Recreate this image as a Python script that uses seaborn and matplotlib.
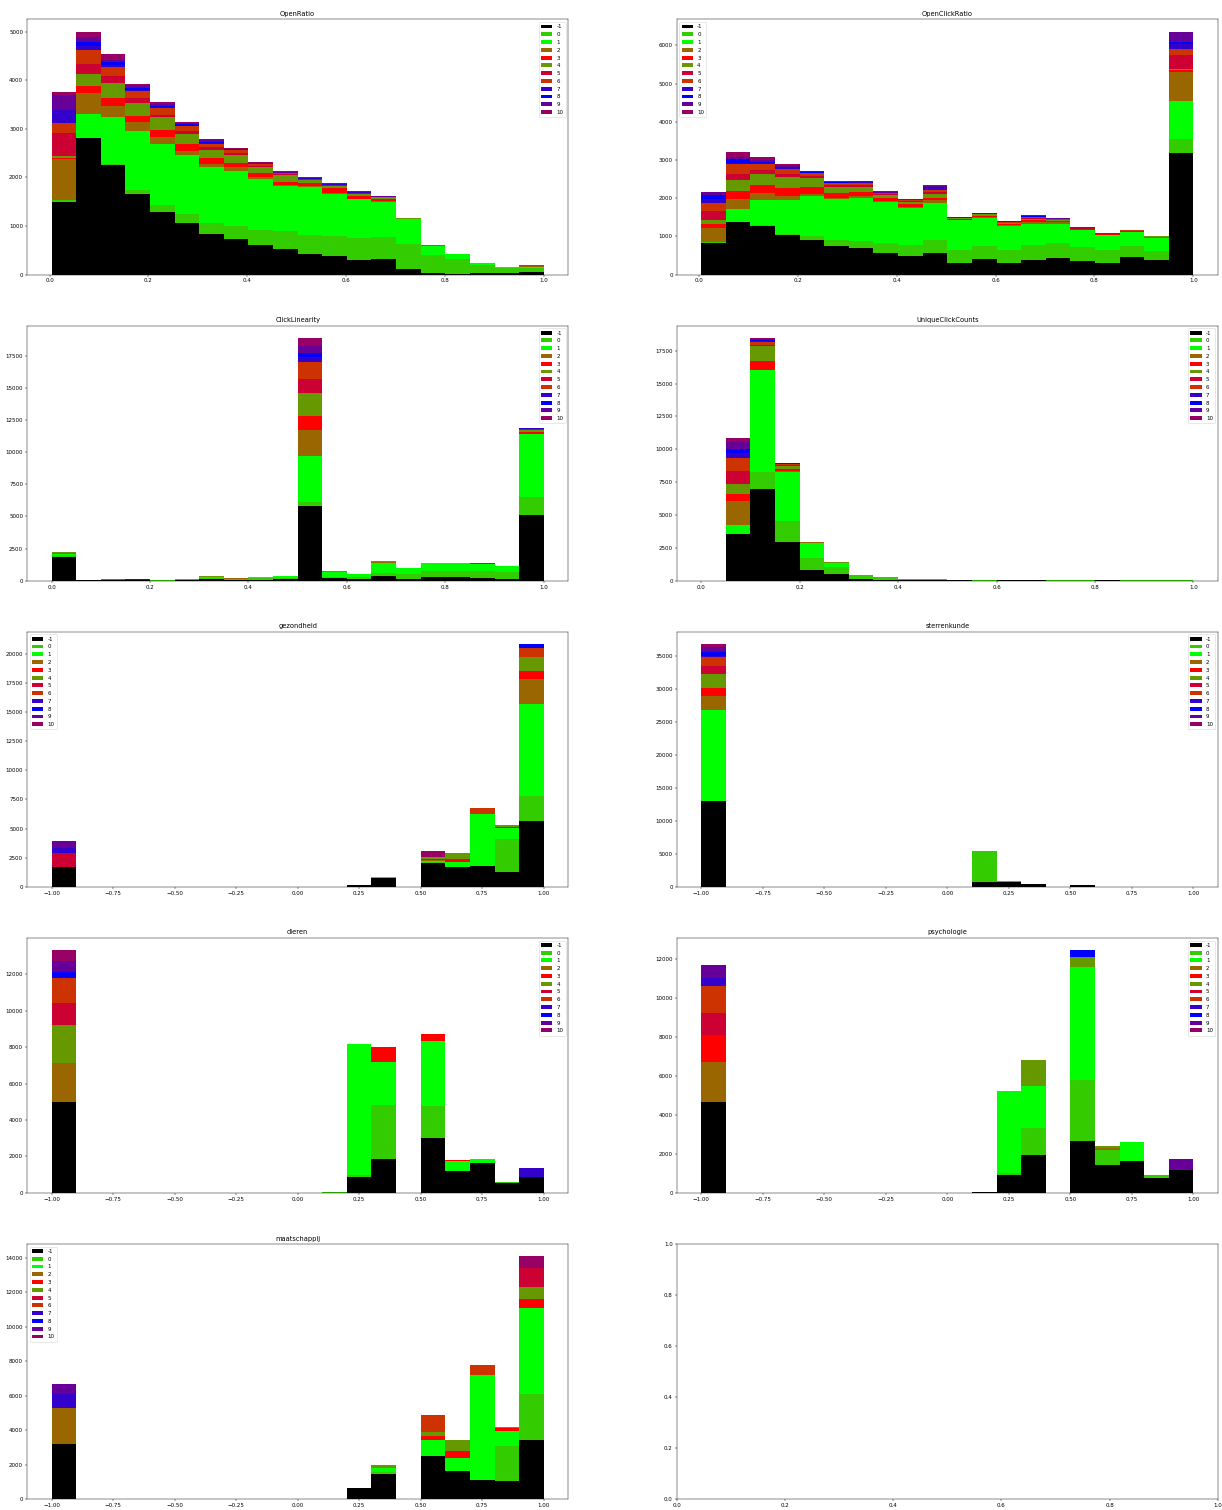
import numpy
import pandas
import seaborn as sns
import matplotlib
matplotlib.use('Agg')
import matplotlib.pyplot as plt
import matplotlib.patches as patches


# Cluster labels and their colours, bottom of the stack first.
class_labels = ['-1', '0', '1', '2', '3', '4', '5', '6', '7', '8', '9', '10']
class_colors = [
    '#000000', '#33cc00', '#00ff00', '#996600', '#ff0000', '#669900',
    '#cc0033', '#cc3300', '#3300cc', '#0000ff', '#660099', '#990066'
]

panel_titles = [
    'OpenRatio', 'OpenClickRatio', 'ClickLinearity', 'UniqueClickCounts',
    'gezondheid', 'sterrenkunde', 'dieren', 'psychologie', 'maatschappij'
]
panel_ranges = [
    (0.004, 1.0), (0.0045, 1.0), (0.0, 1.0), (0.0, 1.0),
    (-1.0, 1.0), (-1.0, 1.0), (-1.0, 1.0), (-1.0, 1.0), (-1.0, 1.0)
]
legend_locs = [
    'upper right', 'upper left', 'upper right', 'upper right',
    'upper left', 'upper right', 'upper right', 'upper right', 'upper left'
]

# Counts per bin (rows, 20 bins) and per cluster (columns, -1 .. 10).
open_ratio_counts = [
    [1495, 35, 0, 855, 20, 30, 480, 205, 260, 0, 310, 70],
    [2805, 5, 490, 440, 140, 240, 210, 290, 80, 80, 110, 110],
    [2250, 35, 960, 220, 170, 310, 135, 185, 45, 60, 55, 105],
    [1667, 83, 1205, 180, 135, 270, 95, 140, 20, 55, 55, 25],
    [1283, 144, 1268, 138, 151, 261, 48, 137, 20, 28, 42, 27],
    [1056, 186, 1228, 75, 137, 213, 55, 103, 14, 27, 27, 21],
    [844, 219, 1146, 62, 137, 165, 47, 62, 27, 21, 35, 20],
    [727, 268, 1145, 69, 89, 158, 48, 55, 7, 13, 14, 14],
    [617, 309, 1050, 34, 82, 124, 20, 35, 7, 6, 14, 27],
    [535, 357, 933, 27, 62, 130, 21, 27, 4, 3, 21, 20],
    [418, 405, 981, 21, 62, 61, 14, 14, 4, 3, 6, 21],
    [391, 398, 878, 21, 96, 34, 20, 14, 4, 3, 14, 14],
    [309, 446, 795, 14, 48, 55, 13, 8, 4, 3, 14, 7],
    [322, 446, 734, 21, 41, 27, 4, 3, 1, 1, 13, 7],
    [123, 501, 515, 6, 7, 3, 2, 2, 0, 0, 0, 0],
    [34, 364, 199, 2, 1, 1, 0, 0, 0, 0, 0, 0],
    [14, 315, 103, 1, 0, 0, 0, 0, 0, 0, 0, 0],
    [27, 179, 41, 0, 0, 0, 0, 0, 0, 0, 0, 0],
    [27, 117, 7, 0, 0, 0, 0, 0, 0, 0, 0, 0],
    [55, 89, 14, 14, 3, 6, 3, 7, 0, 0, 0, 0],
]

open_click_ratio_counts = [
    [830, 15, 11, 375, 105, 88, 236, 200, 105, 114, 70, 17],
    [1371, 9, 323, 280, 209, 280, 157, 262, 35, 105, 35, 131],
    [1266, 27, 655, 174, 219, 288, 105, 157, 35, 26, 44, 87],
    [1031, 43, 874, 113, 210, 288, 70, 122, 26, 35, 44, 35],
    [900, 104, 1057, 44, 175, 253, 52, 61, 17, 17, 18, 18],
    [742, 158, 1083, 9, 130, 175, 44, 43, 17, 9, 18, 17],
    [699, 183, 1118, 52, 114, 131, 44, 43, 26, 9, 18, 17],
    [576, 254, 1074, 26, 61, 88, 26, 17, 9, 9, 17, 18],
    [480, 289, 960, 44, 61, 70, 17, 18, 9, 0, 9, 8],
    [568, 349, 943, 88, 61, 96, 61, 44, 43, 44, 26, 9],
    [314, 341, 769, 17, 17, 17, 9, 9, 0, 0, 9, 8],
    [402, 340, 734, 35, 17, 44, 9, 17, 0, 0, 9, 9],
    [297, 358, 629, 26, 26, 17, 9, 18, 0, 0, 9, 8],
    [393, 384, 559, 44, 35, 43, 27, 26, 0, 9, 9, 17],
    [445, 385, 506, 44, 18, 26, 17, 17, 9, 0, 9, 0],
    [349, 376, 437, 17, 9, 17, 9, 9, 0, 0, 0, 9],
    [314, 324, 393, 17, 9, 9, 9, 9, 0, 0, 0, 9],
    [463, 288, 350, 17, 17, 9, 9, 9, 0, 0, 0, 8],
    [376, 244, 350, 17, 9, 8, 0, 0, 0, 0, 0, 0],
    [3170, 376, 996, 760, 60, 20, 365, 148, 150, 43, 253, 17],
]

click_linearity_counts = [
    [1838, 130, 129, 78, 10, 15, 0, 0, 0, 0, 0, 0],
    [50, 0, 0, 0, 0, 0, 0, 0, 0, 0, 0, 0],
    [40, 30, 20, 5, 0, 5, 0, 0, 0, 0, 0, 0],
    [30, 20, 15, 5, 5, 5, 5, 5, 2, 2, 2, 2],
    [10, 15, 10, 5, 0, 0, 0, 0, 0, 0, 0, 0],
    [60, 50, 50, 0, 0, 0, 0, 0, 0, 0, 0, 0],
    [120, 100, 90, 0, 0, 30, 0, 0, 0, 0, 0, 0],
    [70, 50, 40, 20, 0, 0, 0, 0, 0, 0, 0, 0],
    [90, 80, 90, 0, 20, 0, 0, 0, 0, 0, 0, 0],
    [110, 120, 140, 0, 30, 0, 0, 0, 0, 0, 0, 0],
    [5773, 337, 3624, 1994, 1113, 1735, 1087, 1321, 388, 337, 569, 622],
    [207, 78, 388, 20, 20, 20, 10, 7, 0, 0, 0, 0],
    [130, 155, 207, 5, 0, 0, 0, 0, 0, 0, 0, 0],
    [362, 233, 777, 60, 10, 85, 0, 0, 0, 0, 0, 0],
    [155, 337, 466, 0, 0, 0, 0, 0, 0, 0, 0, 0],
    [259, 466, 673, 10, 0, 0, 0, 0, 0, 0, 0, 0],
    [259, 466, 673, 10, 0, 0, 0, 0, 0, 0, 0, 0],
    [207, 544, 569, 10, 10, 10, 10, 10, 10, 18, 0, 0],
    [130, 543, 440, 20, 10, 10, 0, 0, 0, 0, 0, 0],
    [5075, 1424, 4919, 30, 80, 200, 50, 60, 20, 10, 10, 10],
]

unique_click_counts = [
    [0, 0, 0, 0, 0, 0, 0, 0, 0, 0, 0, 0],
    [3515, 51, 683, 1846, 506, 733, 1037, 961, 405, 253, 556, 329],
    [6955, 1290, 7789, 30, 678, 1087, 76, 253, 50, 102, 76, 101],
    [2959, 1568, 3743, 50, 152, 253, 50, 127, 25, 25, 26, 0],
    [809, 936, 1087, 102, 0, 0, 0, 0, 0, 0, 0, 0],
    [481, 531, 303, 20, 30, 20, 31, 0, 0, 0, 0, 0],
    [152, 278, 0, 0, 0, 0, 0, 0, 0, 0, 0, 0],
    [76, 177, 0, 0, 0, 0, 0, 0, 0, 0, 0, 0],
    [40, 60, 0, 0, 0, 0, 0, 0, 0, 0, 0, 0],
    [60, 30, 0, 30, 0, 0, 0, 0, 0, 0, 0, 0],
    [30, 10, 0, 0, 0, 0, 0, 0, 0, 0, 0, 0],
    [10, 5, 0, 0, 0, 0, 0, 0, 0, 0, 0, 0],
    [25, 5, 0, 0, 0, 0, 0, 0, 0, 0, 0, 0],
    [15, 20, 0, 0, 0, 0, 0, 0, 0, 0, 0, 0],
    [10, 5, 0, 0, 0, 0, 0, 0, 0, 0, 0, 0],
    [10, 20, 0, 0, 0, 0, 0, 0, 0, 0, 0, 0],
    [15, 10, 0, 0, 0, 0, 0, 0, 0, 0, 0, 0],
    [10, 5, 0, 0, 0, 0, 0, 0, 0, 0, 0, 0],
    [10, 5, 0, 0, 0, 0, 0, 0, 0, 0, 0, 0],
    [10, 5, 0, 0, 0, 0, 0, 0, 0, 0, 0, 0],
]

gezondheid_counts = [
    [1688, 0, 0, 0, 0, 0, 1202, 0, 457, 0, 573, 0],
    [0, 0, 0, 0, 0, 0, 0, 0, 0, 0, 0, 0],
    [0, 0, 0, 0, 0, 0, 0, 0, 0, 0, 0, 0],
    [0, 0, 0, 0, 0, 0, 0, 0, 0, 0, 0, 0],
    [0, 0, 0, 0, 0, 0, 0, 0, 0, 0, 0, 0],
    [0, 0, 0, 0, 0, 0, 0, 0, 0, 0, 0, 0],
    [0, 0, 0, 0, 0, 0, 0, 0, 0, 0, 0, 0],
    [0, 0, 0, 0, 0, 0, 0, 0, 0, 0, 0, 0],
    [0, 0, 0, 0, 0, 0, 0, 0, 0, 0, 0, 0],
    [0, 0, 0, 0, 0, 0, 0, 0, 0, 0, 0, 0],
    [0, 0, 0, 0, 0, 0, 0, 0, 0, 0, 0, 0],
    [0, 0, 0, 0, 0, 0, 0, 0, 0, 0, 0, 0],
    [143, 0, 0, 0, 0, 0, 0, 0, 0, 0, 0, 0],
    [715, 40, 45, 0, 0, 0, 0, 0, 0, 0, 0, 0],
    [0, 0, 0, 0, 0, 0, 0, 0, 0, 0, 0, 0],
    [2003, 143, 86, 60, 54, 172, 0, 0, 0, 0, 0, 572],
    [1688, 0, 401, 0, 286, 515, 0, 0, 0, 0, 0, 0],
    [1774, 0, 4434, 0, 0, 0, 0, 515, 0, 0, 0, 0],
    [1287, 2776, 944, 0, 114, 172, 0, 0, 0, 0, 0, 0],
    [5636, 2117, 7925, 2146, 715, 1173, 0, 801, 0, 344, 0, 0],
]

sterrenkunde_counts = [
    [13017, 50, 13727, 2178, 1215, 2128, 1215, 1418, 200, 510, 810, 456],
    [0, 0, 0, 0, 0, 0, 0, 0, 0, 0, 0, 0],
    [0, 0, 0, 0, 0, 0, 0, 0, 0, 0, 0, 0],
    [0, 0, 0, 0, 0, 0, 0, 0, 0, 0, 0, 0],
    [0, 0, 0, 0, 0, 0, 0, 0, 0, 0, 0, 0],
    [0, 0, 0, 0, 0, 0, 0, 0, 0, 0, 0, 0],
    [0, 0, 0, 0, 0, 0, 0, 0, 0, 0, 0, 0],
    [0, 0, 0, 0, 0, 0, 0, 0, 0, 0, 0, 0],
    [0, 0, 0, 0, 0, 0, 0, 0, 0, 0, 0, 0],
    [0, 0, 0, 0, 0, 0, 0, 0, 0, 0, 0, 0],
    [0, 0, 0, 0, 0, 0, 0, 0, 0, 0, 0, 0],
    [760, 4660, 0, 0, 0, 0, 0, 0, 0, 0, 0, 0],
    [658, 152, 50, 0, 0, 0, 0, 0, 0, 0, 0, 0],
    [405, 0, 0, 0, 0, 0, 0, 0, 0, 0, 0, 0],
    [0, 0, 0, 0, 0, 0, 0, 0, 0, 0, 0, 0],
    [200, 0, 0, 0, 0, 0, 0, 0, 0, 0, 0, 0],
    [0, 0, 0, 0, 0, 0, 0, 0, 0, 0, 0, 0],
    [0, 0, 0, 0, 0, 0, 0, 0, 0, 0, 0, 0],
    [0, 0, 0, 0, 0, 0, 0, 0, 0, 0, 0, 0],
    [0, 0, 0, 0, 0, 0, 0, 0, 0, 0, 0, 0],
]

dieren_counts = [
    [4975, 0, 0, 2140, 0, 2103, 1207, 1390, 0, 330, 585, 603],
    [0, 0, 0, 0, 0, 0, 0, 0, 0, 0, 0, 0],
    [0, 0, 0, 0, 0, 0, 0, 0, 0, 0, 0, 0],
    [0, 0, 0, 0, 0, 0, 0, 0, 0, 0, 0, 0],
    [0, 0, 0, 0, 0, 0, 0, 0, 0, 0, 0, 0],
    [0, 0, 0, 0, 0, 0, 0, 0, 0, 0, 0, 0],
    [0, 0, 0, 0, 0, 0, 0, 0, 0, 0, 0, 0],
    [0, 0, 0, 0, 0, 0, 0, 0, 0, 0, 0, 0],
    [0, 0, 0, 0, 0, 0, 0, 0, 0, 0, 0, 0],
    [0, 0, 0, 0, 0, 0, 0, 0, 0, 0, 0, 0],
    [0, 0, 0, 0, 0, 0, 0, 0, 0, 0, 0, 0],
    [0, 50, 0, 0, 0, 0, 0, 0, 0, 0, 0, 0],
    [896, 92, 7188, 0, 0, 0, 0, 0, 0, 0, 0, 0],
    [1866, 2963, 2341, 0, 823, 0, 0, 0, 0, 0, 0, 0],
    [0, 0, 0, 0, 0, 0, 0, 0, 0, 0, 0, 0],
    [3000, 1774, 3566, 0, 384, 0, 0, 0, 0, 0, 0, 0],
    [1225, 0, 513, 0, 73, 0, 0, 0, 0, 0, 0, 0],
    [1628, 0, 219, 0, 0, 0, 0, 0, 0, 0, 0, 0],
    [567, 37, 0, 0, 0, 0, 0, 0, 0, 0, 0, 0],
    [896, 0, 0, 0, 0, 0, 0, 0, 457, 0, 0, 0],
]

psychologie_counts = [
    [4650, 0, 0, 2050, 1400, 0, 1100, 1400, 400, 0, 700, 0],
    [0, 0, 0, 0, 0, 0, 0, 0, 0, 0, 0, 0],
    [0, 0, 0, 0, 0, 0, 0, 0, 0, 0, 0, 0],
    [0, 0, 0, 0, 0, 0, 0, 0, 0, 0, 0, 0],
    [0, 0, 0, 0, 0, 0, 0, 0, 0, 0, 0, 0],
    [0, 0, 0, 0, 0, 0, 0, 0, 0, 0, 0, 0],
    [0, 0, 0, 0, 0, 0, 0, 0, 0, 0, 0, 0],
    [0, 0, 0, 0, 0, 0, 0, 0, 0, 0, 0, 0],
    [0, 0, 0, 0, 0, 0, 0, 0, 0, 0, 0, 0],
    [0, 0, 0, 0, 0, 0, 0, 0, 0, 0, 0, 0],
    [0, 0, 0, 0, 0, 0, 0, 0, 0, 0, 0, 0],
    [50, 0, 0, 0, 0, 0, 0, 0, 0, 0, 0, 0],
    [900, 100, 4200, 0, 0, 0, 0, 0, 0, 0, 0, 0],
    [1950, 1400, 2150, 0, 0, 1300, 0, 0, 0, 0, 0, 0],
    [0, 0, 0, 0, 0, 0, 0, 0, 0, 0, 0, 0],
    [2650, 3150, 5750, 0, 0, 550, 0, 0, 0, 350, 0, 0],
    [1450, 750, 0, 100, 0, 100, 0, 0, 0, 0, 0, 0],
    [1650, 0, 950, 0, 0, 0, 0, 0, 0, 0, 0, 0],
    [750, 150, 0, 0, 0, 0, 0, 0, 0, 0, 0, 0],
    [1150, 0, 0, 0, 0, 0, 0, 0, 0, 0, 600, 0],
]

maatschappij_counts = [
    [3200, 0, 0, 2100, 0, 0, 0, 0, 800, 0, 600, 0],
    [0, 0, 0, 0, 0, 0, 0, 0, 0, 0, 0, 0],
    [0, 0, 0, 0, 0, 0, 0, 0, 0, 0, 0, 0],
    [0, 0, 0, 0, 0, 0, 0, 0, 0, 0, 0, 0],
    [0, 0, 0, 0, 0, 0, 0, 0, 0, 0, 0, 0],
    [0, 0, 0, 0, 0, 0, 0, 0, 0, 0, 0, 0],
    [0, 0, 0, 0, 0, 0, 0, 0, 0, 0, 0, 0],
    [0, 0, 0, 0, 0, 0, 0, 0, 0, 0, 0, 0],
    [0, 0, 0, 0, 0, 0, 0, 0, 0, 0, 0, 0],
    [0, 0, 0, 0, 0, 0, 0, 0, 0, 0, 0, 0],
    [0, 0, 0, 0, 0, 0, 0, 0, 0, 0, 0, 0],
    [0, 0, 0, 0, 0, 0, 0, 0, 0, 0, 0, 0],
    [650, 0, 0, 0, 0, 0, 0, 0, 0, 0, 0, 0],
    [1450, 100, 250, 0, 0, 150, 0, 0, 0, 0, 0, 0],
    [0, 0, 0, 0, 0, 0, 0, 0, 0, 0, 0, 0],
    [2500, 0, 900, 0, 250, 250, 0, 1000, 0, 0, 0, 0],
    [1600, 0, 800, 0, 400, 600, 0, 0, 0, 0, 0, 0],
    [1100, 0, 6100, 0, 0, 0, 0, 600, 0, 0, 0, 0],
    [1050, 2050, 850, 0, 150, 100, 0, 0, 0, 0, 0, 0],
    [3400, 2700, 5000, 0, 500, 700, 1100, 0, 0, 0, 0, 700],
]

panel_counts = [
    open_ratio_counts, open_click_ratio_counts, click_linearity_counts,
    unique_click_counts, gezondheid_counts, sterrenkunde_counts,
    dieren_counts, psychologie_counts, maatschappij_counts
]


def build_frame(counts, lo, hi):
    # One row per (bin, cluster), placed at the bin centre and weighted by its count.
    width = (hi - lo) / len(counts)
    records = []
    for i, row in enumerate(counts):
        centre = lo + (i + 0.5) * width
        for label, value in zip(class_labels, row):
            records.append({'value': centre, 'label': label, 'count': value})
    return pandas.DataFrame(records)


palette = dict(zip(class_labels, class_colors))

# 0.4 scale of a 10pt figure: draw at 40 dpi so the default sizes shrink with it.
fig, axes = plt.subplots(5, 2, figsize = (30.55, 37.75))
fig.subplots_adjust(left = 0.0221, right = 0.9967, top = 0.9871, bottom = 0.0073,
                    wspace = 0.2, hspace = 0.2)
axes = axes.flatten()

for ax, title, (lo, hi), counts, loc in zip(axes, panel_titles, panel_ranges, panel_counts, legend_locs):
    df = build_frame(counts, lo, hi)

    # Seaborn stacks the first hue level on top, so reverse to keep -1 at the bottom.
    sns.histplot(
        data = df, x = 'value', weights = 'count', hue = 'label',
        hue_order = class_labels[::-1], palette = palette,
        multiple = 'stack', bins = 20, binrange = (lo, hi),
        alpha = 1, linewidth = 0, legend = False, ax = ax
    )
    ax.set_title(title)
    ax.set_xlabel('')
    ax.set_ylabel('')

    handles = [patches.Patch(facecolor = c, label = l) for l, c in zip(class_labels, class_colors)]
    ax.legend(handles = handles, loc = loc)

plt.savefig('out.png', dpi = 40)
